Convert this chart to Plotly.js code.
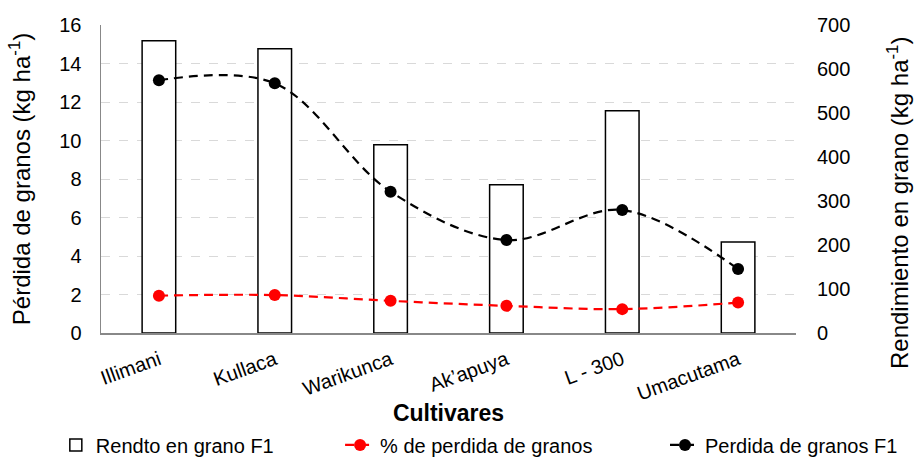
<!DOCTYPE html>
<html><head><meta charset="utf-8">
<script src="https://cdn.plot.ly/plotly-3.0.1.min.js"></script>
<style>html,body{margin:0;padding:0;background:#fff}#c{width:915px;height:457px}</style>
</head><body><div id="c"></div>
<script>
const categories = ["Illimani", "Kullaca", "Warikunca", "Ak’apuya", "L - 300", "Umacutama"];
const rendtoF1 = [664, 646, 428, 337, 505, 207];
const pctPerdida = [1.94, 1.97, 1.67, 1.41, 1.24, 1.58];
const perdidaF1 = [13.13, 12.97, 7.34, 4.83, 6.39, 3.32];
const leftTicks = [0, 2, 4, 6, 8, 10, 12, 14, 16];
const rightTicks = [0, 100, 200, 300, 400, 500, 600, 700];
const rightTitle = "Rendimiento en grano (kg ha<sup>-1</sup>)";
const leftTitle = "Pérdida de granos (kg ha<sup>-1</sup>)";

const F = "Liberation Sans, Arial, sans-serif";
const traces = [
  {type: "bar", name: "Rendto en grano F1", x: categories, y: rendtoF1, yaxis: "y", legend: "legend",
   marker: {color: "#ffffff", line: {color: "#000000", width: 1.5}}, width: 0.29},
  {type: "scatter", mode: "lines+markers", name: "% de perdida de granos", x: categories, y: pctPerdida, yaxis: "y2", legend: "legend2",
   line: {color: "#ff0000", dash: "9px,6px", width: 2.2, shape: "spline"}, marker: {color: "#ff0000", size: 12}},
  {type: "scatter", mode: "lines+markers", name: "Perdida de granos F1", x: categories, y: perdidaF1, yaxis: "y2", legend: "legend3",
   line: {color: "#000000", dash: "9px,6px", width: 2.2, shape: "spline"}, marker: {color: "#000000", size: 12}}
];
function leg(x) {
  return {orientation: "h", x: x, xanchor: "left", y: -0.30, yanchor: "top",
          font: {family: F, size: 20}, bgcolor: "rgba(0,0,0,0)", borderwidth: 0};
}
const layout = {
  width: 915, height: 457,
  margin: {l: 101, r: 119, t: 25, b: 124, autoexpand: false},
  paper_bgcolor: "#fff", plot_bgcolor: "#fff",
  font: {family: F, size: 20, color: "#000"},
  showlegend: true,
  legend: leg(-0.065),
  legend2: leg(0.344),
  legend3: leg(0.8115),
  xaxis: {tickangle: -20, showline: true, linecolor: "#888", linewidth: 1.5, ticks: "",
          tickfont: {family: F, size: 20}, ticklabelstandoff: 6,
          title: {text: "<b>Cultivares</b>", font: {family: F, size: 23}, standoff: 0}},
  yaxis: {range: [0, 700], tickvals: rightTicks, side: "right", showgrid: false,
          zeroline: false, showline: false, ticks: "", tickfont: {family: F, size: 20}, ticklabelstandoff: 20},
  yaxis2: {range: [0, 16], tickvals: leftTicks, overlaying: "y", side: "left", showline: true, linecolor: "#888", linewidth: 1.5,
          showgrid: true, gridcolor: "#d9d9d9", griddash: "dash", zeroline: false, ticks: "",
          tickfont: {family: F, size: 20}, ticklabelstandoff: 14,
          title: {text: leftTitle, font: {family: F, size: 24}, standoff: 22}},
  annotations: [{text: rightTitle, xref: "paper", yref: "paper", x: 1, xshift: 102, y: 0.422,
                 xanchor: "center", yanchor: "middle", textangle: -90, showarrow: false,
                 font: {family: F, size: 24}}]
};
Plotly.newPlot("c", traces, layout, {displayModeBar: false, staticPlot: true});
</script></body></html>
